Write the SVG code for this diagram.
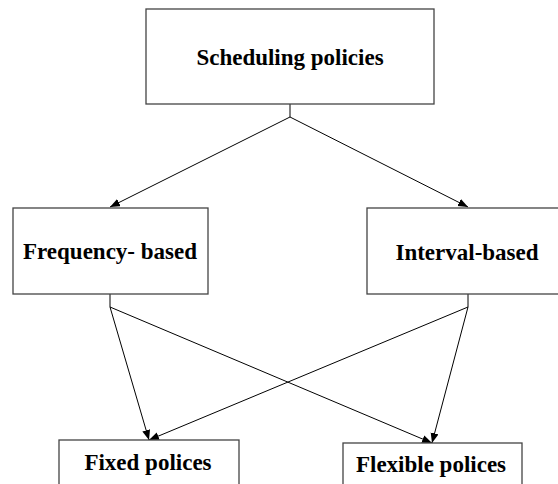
<svg xmlns="http://www.w3.org/2000/svg" width="558" height="484" viewBox="0 0 558 484">
<style>
.box{fill:#fff;stroke:#444;stroke-width:1.3}
.lbl{font-family:"Liberation Serif","Times New Roman",serif;font-weight:bold;font-size:23px;fill:#000;text-anchor:middle}
.ln{fill:none;stroke:#000;stroke-width:1}
</style>
<defs>
<marker id="arr" markerUnits="userSpaceOnUse" markerWidth="12" markerHeight="10" refX="10" refY="4" orient="auto">
<path d="M0,0 L10,4 L0,8 Z" fill="#000"/>
</marker>
</defs>
<rect width="558" height="484" fill="#fff"/>
<g id="connectors">
<polyline class="ln" points="290,104 290,117"/>
<line class="ln" x1="290" y1="117" x2="110" y2="207" marker-end="url(#arr)"/>
<line class="ln" x1="290" y1="117" x2="468" y2="207" marker-end="url(#arr)"/>
<polyline class="ln" points="110,294 110,307"/>
<line class="ln" x1="110" y1="307" x2="149" y2="440" marker-end="url(#arr)"/>
<line class="ln" x1="110" y1="307" x2="432" y2="443" marker-end="url(#arr)"/>
<polyline class="ln" points="468,294 468,307"/>
<line class="ln" x1="468" y1="307" x2="432" y2="443" marker-end="url(#arr)"/>
<line class="ln" x1="468" y1="307" x2="149" y2="440" marker-end="url(#arr)"/>
</g>
<g id="scheduling">
<rect class="box" x="146" y="9" width="288" height="95"/>
<text class="lbl" x="290" y="65">Scheduling policies</text>
</g>
<g id="frequency">
<rect class="box" x="13" y="208" width="195" height="86"/>
<text class="lbl" x="110" y="259">Frequency- based</text>
</g>
<g id="interval">
<rect class="box" x="367" y="208" width="200" height="86"/>
<text class="lbl" x="467" y="260">Interval-based</text>
</g>
<g id="fixed">
<rect class="box" x="59" y="440" width="180" height="60"/>
<text class="lbl" x="148" y="470">Fixed polices</text>
</g>
<g id="flexible">
<rect class="box" x="343" y="443" width="179" height="60"/>
<text class="lbl" x="431" y="472">Flexible polices</text>
</g>
</svg>
